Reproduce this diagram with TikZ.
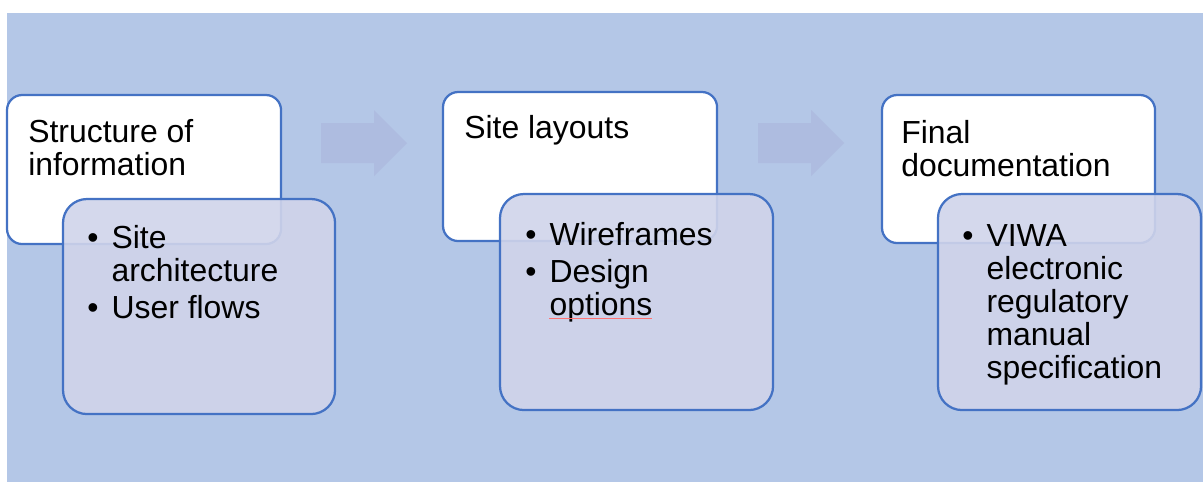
\documentclass[tikz,border=0pt]{standalone}
\usepackage{fontspec}
\setmainfont{Liberation Sans}

\definecolor{panelblue}{HTML}{B4C7E7}
\definecolor{edgeblue}{HTML}{4472C4}
\definecolor{arrowblue}{HTML}{AEBCE0}
\definecolor{listfill}{HTML}{D0D4EA}

\tikzset{
  headbox/.style={draw=edgeblue, line width=1.6pt, fill=white, rounded corners=0.38cm,
    anchor=north west, inner sep=0pt, outer sep=0pt},
  listbox/.style={draw=edgeblue, line width=1.6pt, fill=listfill, fill opacity=0.9,
    rounded corners=0.6cm, anchor=north west, inner sep=0pt, outer sep=0pt},
  boxtext/.style={anchor=base west, inner sep=0pt, font=\fontsize{22.7}{23.4}\selectfont},
  flowarrow/.style={fill=arrowblue}
}

\newcommand{\lines}[1]{\begin{tabular}[t]{@{}l@{}}#1\end{tabular}}
\newcommand{\bullets}[1]{\begin{tabular}[t]{@{}l@{\hspace{9.3pt}}l@{}}#1\end{tabular}}

\begin{document}
\begin{tikzpicture}[x=0.025cm, y=-0.025cm]
  \useasboundingbox (0, 0) rectangle (1203, 482);
  % panel
  \fill[panelblue] (7, 13) rectangle (1203, 482);
  % arrows
  \foreach \dx in {0, 437} {
    \fill[flowarrow, xshift=\dx*0.025cm] (321, 123) -- (374, 123) -- (374, 110) -- (407, 143)
      -- (374, 176) -- (374, 163) -- (321, 163) -- cycle;
  }
  % boxes
  \node[headbox, minimum width=6.85cm, minimum height=3.725cm] (struct) at (7, 95) {};
  \node[headbox, minimum width=6.85cm, minimum height=3.725cm] (layout) at (443, 92) {};
  \node[headbox, minimum width=6.825cm, minimum height=3.7cm] (final) at (882, 95) {};
  \node[listbox, minimum width=6.8cm, minimum height=5.375cm] (structlist) at (63, 199) {};
  \node[listbox, minimum width=6.825cm, minimum height=5.4cm] (layoutlist) at (500, 194) {};
  \node[listbox, minimum width=6.575cm, minimum height=5.4cm] (finallist) at (938, 194) {};
  % texts
  \node[boxtext] (structtext) at (28, 142) {\lines{Structure of\\information}};
  \node[boxtext] (layouttext) at (464, 138) {\lines{Site layouts}};
  \node[boxtext] (finaltext) at (901, 143) {\lines{Final\\documentation}};
  \node[boxtext] (structitems) at (87, 248)
    {\bullets{\textbullet & Site\\ & architecture\\[3.5pt] \textbullet & User flows}};
  \node[boxtext] (layoutitems) at (525, 245)
    {\bullets{\textbullet & Wireframes\\[3.5pt] \textbullet & Design\\ & options}};
  \node[boxtext] (finalitems) at (962, 246)
    {\bullets{\textbullet & VIWA\\ & electronic\\ & regulatory\\ & manual\\ & specification}};
  % spelling mark
  \draw[red!55, line width=0.5pt] (layoutitems.west |- 0, 318) ++(24, 0) -- ++(103, 0);
\end{tikzpicture}
\end{document}
